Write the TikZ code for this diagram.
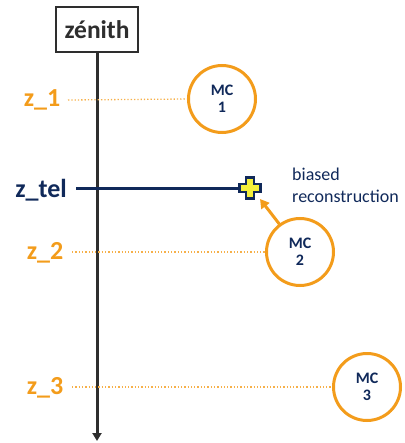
\documentclass[tikz,border=0pt]{standalone}
\usepackage{fontspec}
\setmainfont{Carlito}
\usetikzlibrary{arrows.meta,calc}
\definecolor{org}{HTML}{F39C1B}
\definecolor{orgl}{HTML}{F6B04A}
\definecolor{navy}{HTML}{10295A}
\definecolor{axisgray}{HTML}{2E2E2E}
\definecolor{crossy}{HTML}{F4F03A}
\tikzset{
  zlab/.style={font=\fontsize{26}{28}\selectfont\bfseries, text=org, inner sep=0pt},
  mc/.style={circle, draw=org, line width=3pt, fill=white, minimum size=67pt, inner sep=0pt, align=center, text=navy, font=\fontsize{16}{16.5}\selectfont\bfseries},
  level/.style={orgl, line width=1.3pt, dotted},
}
\begin{document}
\begin{tikzpicture}[x=1pt,y=-1pt]
\useasboundingbox (0,0) rectangle (404,443);
% axis
\node[draw=axisgray, line width=1.3pt, fill=white, minimum width=82pt, minimum height=45pt, inner sep=0pt, font=\fontsize{25.5}{27}\selectfont\bfseries, text=axisgray] (zen) at (97,29.5) {zénith};
\coordinate (axend) at (97,441);
\draw[axisgray, line width=3pt, -{Triangle[length=8pt,width=9pt]}] (zen.south) -- (axend);
% circles
\node[mc] (mc1) at (222,99) {MC\\1};
\node[mc] (mc2) at (300,252) {MC\\2};
\node[mc] (mc3) at (367,387) {MC\\3};
% z labels
\node[zlab] (z1) at (42,100) {z\_1};
\node[zlab] (z2) at (45,253) {z\_2};
\node[zlab] (z3) at (45,388) {z\_3};
\node[zlab, text=navy] (ztel) at (41,190) {z\_tel};
% dotted levels
\coordinate (l1) at (68,100);
\coordinate (l2) at (72,252);
\coordinate (l3) at (72,387);
\draw[level] (l1) -- (mc1.west);
\draw[level] (l2) -- (mc2.west);
\draw[level] (l3) -- (mc3.west);
% cross
\coordinate (cr) at (250,188);
\coordinate (tl) at (76,189);
\draw[navy, line width=3pt] (tl) -- (240,189);
\node[inner sep=0pt, minimum size=22pt] (crossn) at (cr) {};
\filldraw[fill=crossy, draw=navy, line width=2.8pt, line join=miter]
  ($(cr)+(-4,-10.5)$) -- ($(cr)+(4,-10.5)$) -- ($(cr)+(4,-4)$) -- ($(cr)+(10.5,-4)$) -- ($(cr)+(10.5,4)$) -- ($(cr)+(4,4)$) -- ($(cr)+(4,10.5)$) -- ($(cr)+(-4,10.5)$) -- ($(cr)+(-4,4)$) -- ($(cr)+(-10.5,4)$) -- ($(cr)+(-10.5,-4)$) -- ($(cr)+(-4,-4)$) -- cycle;
\draw[org, line width=3pt, -{Triangle[length=9pt,width=10pt]}] (mc2.north west) ++(5,-2) -- ($(cr)+(10,11)$);
% text
\node[anchor=north west, align=left, text=navy, inner sep=0pt, font=\fontsize{18}{22}\selectfont] (bias) at (292,168) {biased\\reconstruction};
\end{tikzpicture}
\end{document}
